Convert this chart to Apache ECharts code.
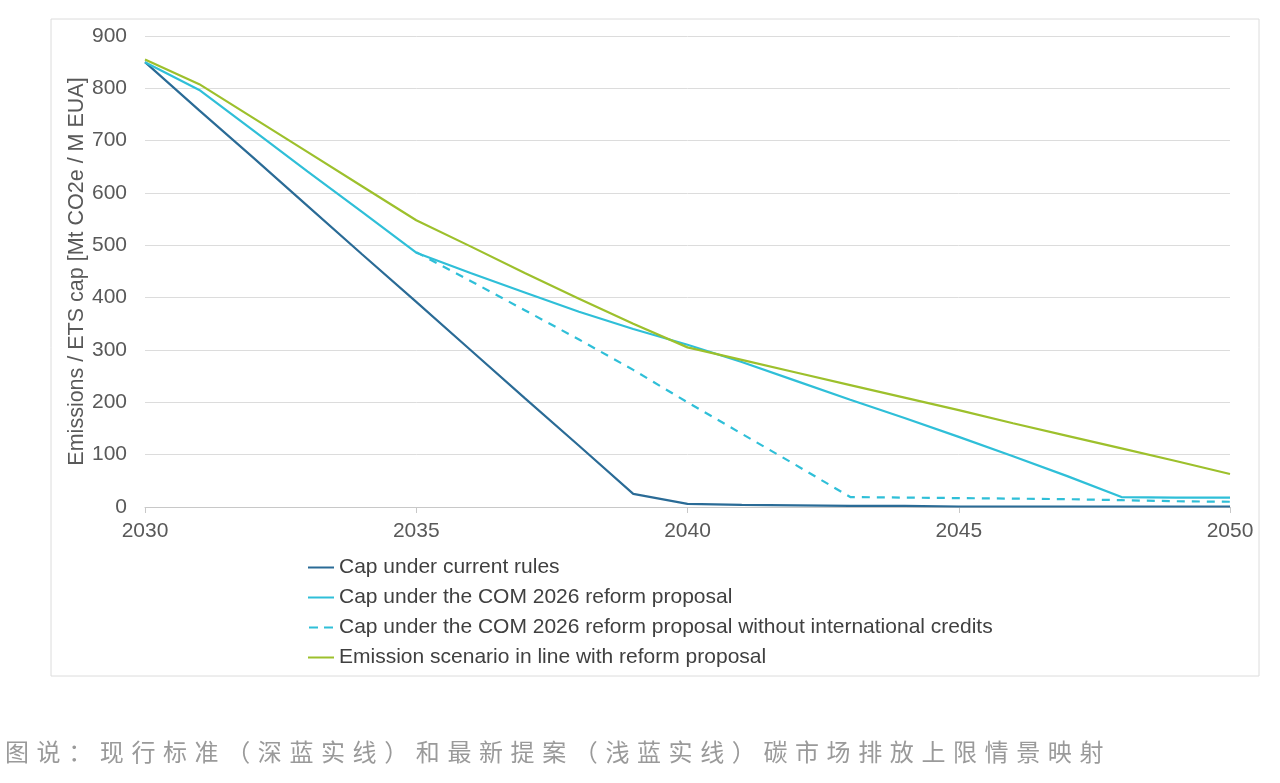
<!DOCTYPE html>
<html lang="zh-CN">
<head>
	<meta charset="utf-8" />
	<title>ETS cap scenarios</title>
	<style type="text/css">
		html,body{margin:0;padding:0;background:#fff;}
		#chart{width:1280px;height:783px;}
		.caption{position:absolute;left:5px;top:733px;font-family:"Noto Sans CJK SC",sans-serif;font-size:24px;color:#9a9a9a;letter-spacing:7.6px;white-space:nowrap;}
	</style>
</head>
<body>
	<div id="chart"></div>
	<div class="caption">图说：现行标准（深蓝实线）和最新提案（浅蓝实线）碳市场排放上限情景映射</div>
<script src="https://cdn.jsdelivr.net/npm/echarts@6/dist/echarts.min.js"></script>
<script>
	// 年份 2030 - 2050
	var years = [2030,2031,2032,2033,2034,2035,2036,2037,2038,2039,2040,2041,2042,2043,2044,2045,2046,2047,2048,2049,2050];
	// 现行规则下的上限
	var capCurrent = [850,758,667,575,483,392,300,208,117,25,6,4,3,2,2,1,1,1,1,1,1];
	// COM 2026 改革提案
	var capReform = [850,797,719,641,564,486,447,410,373,340,310,277,241,205,170,134,97,59,19,18,18];
	// 改革提案（不含国际信用）, 2035 年起
	var capNoCredits = [null,null,null,null,null,487,432,376,320,262,200,140,80,19,18,17,16,15,13,11,10];
	// 排放情景
	var emissions = [855,808,743,678,613,548,498,447,398,350,305,281,257,233,209,185,160,136,112,88,63];
	var yTicks = [0,100,200,300,400,500,600,700,800,900];
	var seriesNames = [
		'Cap under current rules',
		'Cap under the COM 2026 reform proposal',
		'Cap under the COM 2026 reform proposal without international credits',
		'Emission scenario in line with reform proposal'
	];

	function pairs(vals){
		var out = [];
		for (var i = 0; i < years.length; i++) {
			if (vals[i] !== null) out.push([years[i], vals[i]]);
		}
		return out;
	}

	// 图例的线条图标
	var solidIcon = 'path://M0,0 L26,0 L26,2 L0,2 Z';
	var dashIcon = 'path://M0,0 L9,0 L9,2 L0,2 Z M15,0 L24,0 L24,2 L15,2 Z';

	var font = 'Liberation Sans, Arial, sans-serif';
	var chart = echarts.init(document.getElementById('chart'));
	chart.setOption({
		animation: false,
		textStyle: {fontFamily: font},
		graphic: [{
			type: 'rect',
			shape: {x: 51, y: 19, width: 1208, height: 657},
			style: {fill: 'none', stroke: '#dcdcdc', lineWidth: 1},
			silent: true
		}],
		grid: {left: 145, right: 50, top: 36, bottom: 276},
		legend: {
			orient: 'vertical',
			left: 303,
			top: 552,
			itemWidth: 26,
			itemHeight: 2,
			itemGap: 9,
			textStyle: {fontSize: 21, color: '#404040', fontFamily: font},
			data: [
				{name: seriesNames[0], icon: solidIcon},
				{name: seriesNames[1], icon: solidIcon},
				{name: seriesNames[2], icon: dashIcon},
				{name: seriesNames[3], icon: solidIcon}
			]
		},
		xAxis: {
			type: 'value',
			min: 2030,
			max: 2050,
			interval: 5,
			axisLine: {lineStyle: {color: '#c8c8c8'}},
			axisTick: {show: true, length: 6, lineStyle: {color: '#c8c8c8'}},
			splitLine: {show: false},
			axisLabel: {fontSize: 21, color: '#595959', margin: 14, formatter: function(v){return String(v);}}
		},
		yAxis: {
			type: 'value',
			min: yTicks[0],
			max: yTicks[yTicks.length - 1],
			interval: 100,
			name: 'Emissions / ETS cap [Mt CO2e / M EUA]',
			nameLocation: 'middle',
			nameGap: 57,
			nameMoveOverlap: false,
			nameTextStyle: {fontSize: 21.5, color: '#595959'},
			axisLine: {show: false},
			axisTick: {show: false},
			splitLine: {lineStyle: {color: '#dcdcdc'}},
			axisLabel: {fontSize: 21, color: '#595959', margin: 18}
		},
		series: [{
			name: seriesNames[0],
			type: 'line',
			symbol: 'none',
			data: pairs(capCurrent),
			lineStyle: {color: '#2a6b96', width: 2.2},
			itemStyle: {color: '#2a6b96'}
		}, {
			name: seriesNames[1],
			type: 'line',
			symbol: 'none',
			data: pairs(capReform),
			lineStyle: {color: '#2fbfd8', width: 2.2},
			itemStyle: {color: '#2fbfd8'}
		}, {
			name: seriesNames[2],
			type: 'line',
			symbol: 'none',
			data: pairs(capNoCredits),
			lineStyle: {color: '#2fbfd8', width: 2.2, type: [8, 7]},
			itemStyle: {color: '#2fbfd8'}
		}, {
			name: seriesNames[3],
			type: 'line',
			symbol: 'none',
			data: pairs(emissions),
			lineStyle: {color: '#9dc02c', width: 2.2},
			itemStyle: {color: '#9dc02c'}
		}]
	});
</script>
</body>
</html>
